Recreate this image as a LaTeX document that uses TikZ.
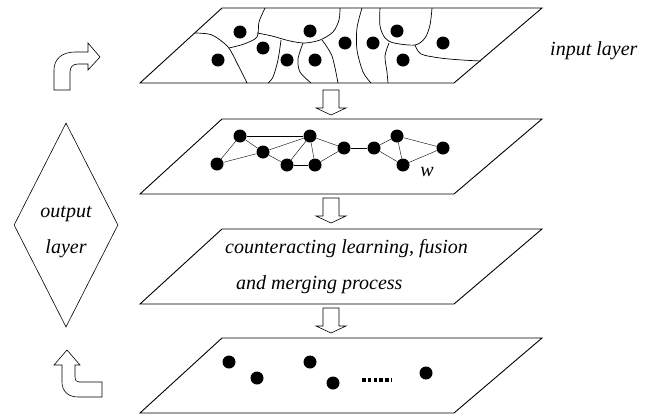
\documentclass[tikz,border=0pt]{standalone}
\usepackage{fontspec}
\setmainfont{Liberation Serif}
\usetikzlibrary{shapes.geometric}

\begin{document}
\begin{tikzpicture}[x=1pt,y=-1pt]
	\tikzset{vertex/.style = {shape=circle, fill=black, inner sep=0pt, minimum size=13pt}}
	\tikzset{plane/.style = {line width=0.9pt}}
	\tikzset{cell/.style = {line width=0.7pt}}
	\tikzset{hollow/.style = {line width=0.6pt}}
	\tikzset{caption/.style = {font=\fontsize{20}{24}\selectfont\itshape, inner sep=0pt}}

	\useasboundingbox (0,0) rectangle (651,418);

	% the four planes and the arrows between them
	\foreach \t in {8,119,229,338}
		\draw[plane] (222,\t) -- (542,\t) -- (454,\t+75) -- (140,\t+75) -- cycle;
	\foreach \t in {90,198,308}
		\draw[hollow] (323,\t) -- (339,\t) -- (339,\t+18) -- (346,\t+18) -- (331,\t+25)
			-- (316,\t+18) -- (323,\t+18) -- cycle;

	% input plane: points and their cells
	\node[vertex] (V_1) at (240,32) {};
	\node[vertex] (V_2) at (310,31) {};
	\node[vertex] (V_3) at (263,48) {};
	\node[vertex] (V_4) at (218,60) {};
	\node[vertex] (V_5) at (287,60) {};
	\node[vertex] (V_6) at (315,60) {};
	\node[vertex] (V_7) at (345,43) {};
	\node[vertex] (V_8) at (373,43) {};
	\node[vertex] (V_9) at (397,31) {};
	\node[vertex] (V_10) at (403,60) {};
	\node[vertex] (V_11) at (443,43) {};

	\draw[cell] plot[smooth] coordinates {(195,33) (212,35) (228,47) (238,65) (247,83)};
	\draw[cell] plot[smooth] coordinates {(229,48) (244,44) (257,37) (259,22) (265,8)};
	\draw[cell] plot[smooth] coordinates {(257,33) (272,36) (290,41) (305,43) (320,40) (333,32) (339,20) (340,8)};
	\draw[cell] plot[smooth] coordinates {(281,40) (278,60) (273,77) (268,83)};
	\draw[cell] plot[smooth] coordinates {(303,43) (298,59) (300,72) (311,83)};
	\draw[cell] plot[smooth] coordinates {(322,40) (332,56) (338,83)};
	\draw[cell] plot[smooth] coordinates {(362,8) (357,28) (357,50) (363,72) (371,83)};
	\draw[cell] plot[smooth] coordinates {(380,8) (380,26) (385,38) (394,43) (415,45) (425,38) (430,25) (432,8)};
	\draw[cell] plot[smooth] coordinates {(415,45) (421,54) (440,58) (462,60) (481,61)};
	\draw[cell] plot[smooth] coordinates {(389,43) (385,56) (387,72) (388,83)};

	% neighbourhood graph
	\node[vertex] (A_1) at (240,136) {};
	\node[vertex] (A_2) at (310,136) {};
	\node[vertex] (A_3) at (263,152) {};
	\node[vertex] (A_4) at (217,164) {};
	\node[vertex] (A_5) at (287,165) {};
	\node[vertex] (A_6) at (315,165) {};
	\node[vertex] (A_7) at (344,148) {};
	\node[vertex] (A_8) at (374,148) {};
	\node[vertex] (A_9) at (397,136) {};
	\node[vertex] (A_10) at (403,165) {};
	\node[vertex] (A_11) at (443,148) {};

	\draw (A_1)--(A_2);
	\draw (A_1)--(A_3);
	\draw (A_1)--(A_4);
	\draw (A_4)--(A_3);
	\draw (A_3)--(A_2);
	\draw (A_3)--(A_5);
	\draw (A_5)--(A_2);
	\draw (A_2)--(A_6);
	\draw (A_5)--(A_6);
	\draw (A_2)--(A_7);
	\draw (A_6)--(A_7);
	\draw (A_7)--(A_8);
	\draw (A_8)--(A_9);
	\draw (A_8)--(A_10);
	\draw (A_9)--(A_10);
	\draw (A_9)--(A_11);
	\draw (A_10)--(A_11);
	\node[caption, anchor=base] (w) at (427,176) {w};

	% merging plane
	\node[caption, anchor=base west] (merge_1) at (225,253) {counteracting learning, fusion};
	\node[caption, anchor=base west] (merge_2) at (236,289) {and merging process};

	% result plane
	\node[vertex] (B_1) at (229,362) {};
	\node[vertex] (B_2) at (257,378) {};
	\node[vertex] (B_3) at (310,362) {};
	\node[vertex] (B_4) at (333,383) {};
	\node[vertex] (B_5) at (426,373) {};
	\draw[line width=3.5pt, dash pattern=on 3.5pt off 2.3pt] (362,380) -- (392,380);

	% side labels
	\node[caption, anchor=base west] (input) at (550,55) {input layer};
	\node[draw, diamond, hollow, inner sep=0pt, minimum width=104pt, minimum height=204pt] (output) at (66,225) {};
	\node[caption, anchor=base] (output_1) at (66,217) {output};
	\node[caption, anchor=base] (output_2) at (66,253) {layer};

	% bent arrows
	\draw[hollow] (54,90) -- (54,70) .. controls (54,59) and (62,52) .. (75,52) -- (88,52)
		-- (88,43) -- (100,57) -- (88,70) -- (88,64) -- (78,64)
		.. controls (73,64) and (70,67) .. (70,72) -- (70,90) -- cycle;
	\draw[hollow] (67,350) -- (80,365) -- (75,365) -- (75,377)
		.. controls (75,380) and (76,382) .. (79,382) -- (102,382) -- (102,397) -- (78,397)
		.. controls (68,397) and (62,391) .. (62,382) -- (62,365) -- (54,365) -- cycle;
\end{tikzpicture}
\end{document}
